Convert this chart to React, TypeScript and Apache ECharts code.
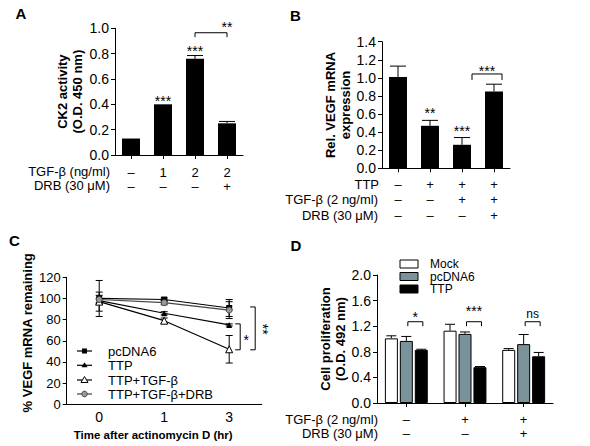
import React, { useEffect, useRef } from "react";
import * as echarts from "echarts";

const FONT = "Arial, 'Liberation Sans', Helvetica, sans-serif";
const GREY = "#7a9299";

// ---- Panel A ----
const aTgf = ["–", "1", "2", "2"];
const aDrb = ["–", "–", "–", "+"];
const aValues = [0.13, 0.4, 0.76, 0.25];
const aErrors = [0, 0, 0.025, 0.015];

// ---- Panel B ----
const bTtp = ["–", "+", "+", "+"];
const bTgf = ["–", "–", "+", "+"];
const bDrb = ["–", "–", "–", "+"];
const bValues = [1.01, 0.47, 0.26, 0.85];
const bErrors = [0.12, 0.06, 0.08, 0.08];

// ---- Panel C ----
const cTimes = ["0", "1", "3"];
const cPcdna6 = [100, 99, 91];
const cPcdna6Err = [17, 1.5, 8];
const cTtp = [98, 86, 75];
const cTtpErr = [2, 1.5, 1];
const cTtpTgf = [97, 79, 52];
const cTtpTgfErr = [9, 2.5, 13];
const cTtpTgfDrb = [99, 96, 89];
const cTtpTgfDrbErr = [4, 2, 8];

// ---- Panel D ----
const dTgf = ["–", "+", "+"];
const dDrb = ["–", "–", "+"];
const dMock = [1.01, 1.13, 0.83];
const dMockErr = [0.04, 0.1, 0.02];
const dPcdna6 = [0.97, 1.08, 0.92];
const dPcdna6Err = [0.07, 0.03, 0.15];
const dTtp = [0.83, 0.56, 0.73];
const dTtpErr = [0.01, 0.01, 0.06];

const axisLine = { show: true, lineStyle: { color: "#000", width: 1 } };
const tick = (show = true) => ({ show, length: 4, alignWithLabel: true, lineStyle: { color: "#000", width: 1 } });

function errorBars(axis: number, values: number[], errs: number[], offset: number, cap: number, both: boolean) {
  return {
    type: "custom",
    xAxisIndex: axis,
    yAxisIndex: axis,
    silent: true,
    z: 1,
    data: values.map((v, i) => [i, v, errs[i]]),
    encode: { x: 0, y: 1 },
    renderItem: (_p: any, api: any) => {
      const i = api.value(0);
      const v = api.value(1);
      const e = api.value(2);
      const top = api.coord([i, v + e]);
      const bot = api.coord([i, both ? v - e : v]);
      const x = top[0] + offset;
      const style = { stroke: "#000", lineWidth: 1 };
      const children: any[] = [];
      if (e > 0) {
        children.push({ type: "line", shape: { x1: x, y1: top[1], x2: x, y2: bot[1] }, style });
        children.push({ type: "line", shape: { x1: x - cap / 2, y1: top[1], x2: x + cap / 2, y2: top[1] }, style });
        if (both) children.push({ type: "line", shape: { x1: x - cap / 2, y1: bot[1], x2: x + cap / 2, y2: bot[1] }, style });
      }
      return { type: "group", children };
    },
  };
}

function yAxisOf(grid: number, max: number, interval: number, decimals: number, name: string, nameGap: number, fontSize: number, namePadding: number[] = [0, 0, 0, 0]) {
  return {
    type: "value",
    gridIndex: grid,
    min: 0,
    max,
    interval,
    axisLine,
    axisTick: tick(),
    splitLine: { show: false },
    axisLabel: {
      color: "#000",
      fontSize,
      fontFamily: FONT,
      margin: 6,
      formatter: (v: number) => v.toFixed(decimals),
    },
    name,
    nameLocation: "middle",
    nameGap,
    nameTextStyle: { color: "#000", fontWeight: "bold", fontSize: 13, lineHeight: 15, fontFamily: FONT, padding: namePadding },
  };
}

function xAxisOf(grid: number, rows: string[][], margin: number, lineHeight: number, showTick = true) {
  return {
    type: "category",
    gridIndex: grid,
    data: rows[0].map((_, i) => String(i)),
    boundaryGap: true,
    axisLine,
    axisTick: tick(showTick),
    splitLine: { show: false },
    axisLabel: {
      interval: 0,
      color: "#000",
      fontSize: 13,
      lineHeight,
      fontFamily: FONT,
      margin,
      formatter: (_v: string, i: number) => rows.map((r) => r[i]).join("\n"),
    },
  };
}

function buildOption() {
  return {
    animation: false,
    textStyle: { fontFamily: FONT, color: "#000" },
    grid: [
      { left: 115, top: 28.3, width: 128, height: 126.7, outerBoundsMode: "none" },
      { left: 382, top: 41.7, width: 128, height: 126.6, outerBoundsMode: "none" },
      { left: 66.7, top: 277.3, width: 195, height: 127, outerBoundsMode: "none" },
      { left: 377, top: 275, width: 176, height: 128, outerBoundsMode: "none" },
    ],
    xAxis: [
      xAxisOf(0, [aTgf, aDrb], 10, 14),
      xAxisOf(1, [bTtp, bTgf, bDrb], 8, 15.5),
      {
        type: "category",
        gridIndex: 2,
        data: cTimes,
        boundaryGap: true,
        axisLine,
        axisTick: tick(false),
        splitLine: { show: false },
        axisLabel: { color: "#000", fontSize: 14, fontFamily: FONT, margin: 6 },
        name: "Time after actinomycin D (hr)",
        nameLocation: "middle",
        nameGap: 25,
        nameTextStyle: { color: "#000", fontWeight: "bold", fontSize: 11.5, fontFamily: FONT, padding: [0, 22, 0, 0] },
      },
      xAxisOf(3, [dTgf, dDrb], 9.3, 14),
    ],
    yAxis: [
      yAxisOf(0, 1, 0.2, 1, "CK2 activity\n(O.D. 450 nm)", 30, 14),
      yAxisOf(1, 1.4, 0.2, 1, "Rel. VEGF mRNA\nexpression", 28, 14),
      yAxisOf(2, 120, 20, 0, "% VEGF mRNA remaining", 26.7, 13, [0, 0, 0, 16]),
      yAxisOf(3, 2, 0.4, 1, "Cell proliferation\n(O.D. 492 nm)", 27, 14),
    ],
    series: [
      // A
      { type: "bar", name: "CK2", xAxisIndex: 0, yAxisIndex: 0, data: aValues, barWidth: 18, itemStyle: { color: "#000" }, z: 2 },
      errorBars(0, aValues, aErrors, 0, 16, false),
      // B
      { type: "bar", name: "VEGF", xAxisIndex: 1, yAxisIndex: 1, data: bValues, barWidth: 18, itemStyle: { color: "#000" }, z: 2 },
      errorBars(1, bValues, bErrors, 0, 16, false),
      // C
      errorBars(2, cPcdna6, cPcdna6Err, 0, 7, true),
      errorBars(2, cTtp, cTtpErr, 0, 7, true),
      errorBars(2, cTtpTgf, cTtpTgfErr, 0, 7, true),
      errorBars(2, cTtpTgfDrb, cTtpTgfDrbErr, 0, 7, true),
      {
        type: "line", name: "pcDNA6", xAxisIndex: 2, yAxisIndex: 2, data: cPcdna6, z: 3,
        symbol: "rect", symbolSize: 6, lineStyle: { color: "#000", width: 1.2 }, itemStyle: { color: "#000" },
      },
      {
        type: "line", name: "TTP", xAxisIndex: 2, yAxisIndex: 2, data: cTtp, z: 3,
        symbol: "triangle", symbolSize: 6, lineStyle: { color: "#000", width: 1.2 }, itemStyle: { color: "#000" },
      },
      {
        type: "line", name: "TTP+TGF-β", xAxisIndex: 2, yAxisIndex: 2, data: cTtpTgf, z: 3,
        symbol: "triangle", symbolSize: 7, lineStyle: { color: "#000", width: 1.2 },
        itemStyle: { color: "#fff", borderColor: "#000", borderWidth: 1 },
      },
      {
        type: "line", name: "TTP+TGF-β+DRB", xAxisIndex: 2, yAxisIndex: 2, data: cTtpTgfDrb, z: 3,
        symbol: "circle", symbolSize: 6, lineStyle: { color: "#444", width: 1.2 },
        itemStyle: { color: "#999", borderColor: "#444", borderWidth: 1 },
      },
      // D
      {
        type: "bar", name: "Mock", xAxisIndex: 3, yAxisIndex: 3, data: dMock, barWidth: 13, barGap: "15%", z: 2,
        itemStyle: { color: "#fff", borderColor: "#000", borderWidth: 1 },
      },
      {
        type: "bar", name: "pcDNA6 (D)", xAxisIndex: 3, yAxisIndex: 3, data: dPcdna6, barWidth: 13, barGap: "15%", z: 2,
        itemStyle: { color: GREY, borderColor: "#000", borderWidth: 1 },
      },
      {
        type: "bar", name: "TTP (D)", xAxisIndex: 3, yAxisIndex: 3, data: dTtp, barWidth: 13, barGap: "15%", z: 2,
        itemStyle: { color: "#000", borderColor: "#000", borderWidth: 1 },
      },
      errorBars(3, dMock, dMockErr, -15, 10, false),
      errorBars(3, dPcdna6, dPcdna6Err, 0, 10, false),
      errorBars(3, dTtp, dTtpErr, 15, 10, false),
    ],
  };
}

function buildGraphics(chart: any) {
  const P = (g: number, x: number, y: number): number[] =>
    chart.convertToPixel({ xAxisIndex: g, yAxisIndex: g }, [x, y]) as number[];
  const g: any[] = [];
  const txt = (x: number, y: number, s: string, o: any = {}) =>
    g.push({
      type: "text",
      x,
      y,
      rotation: o.rot || 0,
      silent: true,
      z: 10,
      style: {
        text: s,
        fill: "#000",
        fontSize: o.size || 13,
        fontWeight: o.weight || "normal",
        fontFamily: FONT,
        align: o.align || "center",
        verticalAlign: "middle",
      },
    });
  const poly = (pts: number[][]) =>
    g.push({ type: "polyline", silent: true, z: 10, shape: { points: pts }, style: { stroke: "#000", lineWidth: 1, fill: null } });
  const star = (x: number, y: number, s: string) => txt(x, y + 3, s, { size: 14 });

  // panel letters
  txt(21, 13.5, "A", { size: 15, weight: "bold" });
  txt(295.5, 15, "B", { size: 15, weight: "bold" });
  txt(14.5, 240, "C", { size: 15, weight: "bold" });
  txt(296, 245, "D", { size: 15, weight: "bold" });

  // row titles
  txt(110, 171.5, "TGF-β (ng/ml)", { align: "right" });
  txt(110, 185.5, "DRB (30 μM)", { align: "right" });
  txt(379, 184, "TTP", { align: "right" });
  txt(378, 199.5, "TGF-β (2 ng/ml)", { align: "right" });
  txt(378, 215, "DRB (30 μM)", { align: "right" });
  txt(378, 419.3, "TGF-β (2 ng/ml)", { align: "right" });
  txt(378, 433.3, "DRB (30 μM)", { align: "right" });

  // A annotations
  {
    const p1 = P(0, 1, 0.45);
    star(p1[0], p1[1], "***");
    const p2 = P(0, 2, 0.845);
    star(p2[0], p2[1], "***");
    const l = P(0, 2, 0.965);
    const r = P(0, 3, 0.965);
    const leg = P(0, 2, 0.93)[1];
    poly([[l[0], leg], [l[0], l[1]], [r[0], r[1]], [r[0], leg]]);
    const t = P(0, 2.5, 1.034);
    star(t[0], t[1], "**");
  }
  // B annotations
  {
    const p1 = P(1, 1, 0.645);
    star(p1[0], p1[1], "**");
    const p2 = P(1, 2, 0.445);
    star(p2[0], p2[1], "***");
    const l = P(1, 2, 1.043);
    const r = P(1, 3, 1.043);
    const leg = P(1, 2, 0.977)[1];
    const x1 = l[0] + 10;
    const x2 = r[0] + 8;
    poly([[x1, leg], [x1, l[1]], [x2, l[1]], [x2, leg]]);
    const t = P(1, 2, 1.11);
    star((x1 + x2) / 2, t[1], "***");
  }
  // C annotations
  {
    const c = P(2, 2, 0)[0];
    const a1 = P(2, 2, 76)[1];
    const a2 = P(2, 2, 51.5)[1];
    const b1 = P(2, 2, 92)[1];
    poly([[c + 6, a1], [c + 11, a1], [c + 11, a2], [c + 6, a2]]);
    poly([[c + 21, b1], [c + 26, b1], [c + 26, a2], [c + 21, a2]]);
    star(c + 17, P(2, 2, 64)[1], "*");
    txt(c + 33.5, P(2, 2, 71)[1], "**", { size: 14, rot: -Math.PI / 2 });
  }
  // D annotations
  {
    const labels = ["*", "***", "ns"];
    const labelVals = [1.39, 1.48, 1.395];
    for (let i = 0; i < 3; i++) {
      const c = P(3, i, 1.27);
      const leg = P(3, i, 1.2)[1];
      const x1 = c[0] + 1.5;
      const x2 = c[0] + 16.5;
      poly([[x1, leg], [x1, c[1]], [x2, c[1]], [x2, leg]]);
      const ly = P(3, i, labelVals[i])[1];
      if (labels[i] === "ns") txt((x1 + x2) / 2, ly, "ns", { size: 12 });
      else star((x1 + x2) / 2, ly, labels[i]);
    }
  }

  // C legend
  const cLegend = ["pcDNA6", "TTP", "TTP+TGF-β", "TTP+TGF-β+DRB"];
  const cRows = [351, 365.3, 380, 394];
  cLegend.forEach((name, i) => {
    const y = cRows[i];
    g.push({ type: "line", silent: true, shape: { x1: 77, y1: y, x2: 92, y2: y }, style: { stroke: i === 3 ? "#444" : "#000", lineWidth: 1.2 } });
    const mx = 84.5;
    if (i === 0) g.push({ type: "rect", silent: true, shape: { x: mx - 2.5, y: y - 2.5, width: 5, height: 5 }, style: { fill: "#000" } });
    if (i === 1) g.push({ type: "polygon", silent: true, shape: { points: [[mx, y - 3], [mx - 3, y + 2], [mx + 3, y + 2]] }, style: { fill: "#000" } });
    if (i === 2)
      g.push({ type: "polygon", silent: true, shape: { points: [[mx, y - 3.5], [mx - 3.5, y + 2.5], [mx + 3.5, y + 2.5]] }, style: { fill: "#fff", stroke: "#000", lineWidth: 1 } });
    if (i === 3) g.push({ type: "circle", silent: true, shape: { cx: mx, cy: y, r: 2.8 }, style: { fill: "#999", stroke: "#444", lineWidth: 1 } });
    txt(108, y, name, { align: "left" });
  });

  // D legend
  const dLegend = ["Mock", "pcDNA6", "TTP"];
  const dColors = ["#fff", GREY, "#000"];
  const dRows = [264, 276.5, 289];
  dLegend.forEach((name, i) => {
    const y = dRows[i];
    g.push({ type: "rect", silent: true, shape: { x: 400, y: y - 4, width: 18, height: 8 }, style: { fill: dColors[i], stroke: "#000", lineWidth: 1 } });
    txt(430, y, name, { align: "left", size: 12 });
  });

  return g;
}

export default function App() {
  const ref = useRef<HTMLDivElement>(null);
  useEffect(() => {
    document.body.style.margin = "0";
    const chart = echarts.init(ref.current!, null, { renderer: "svg" });
    chart.setOption(buildOption() as any);
    chart.setOption({ graphic: buildGraphics(chart) } as any);
    return () => chart.dispose();
  }, []);
  return <div ref={ref} style={{ width: 590, height: 446, background: "#fff" }} />;
}
